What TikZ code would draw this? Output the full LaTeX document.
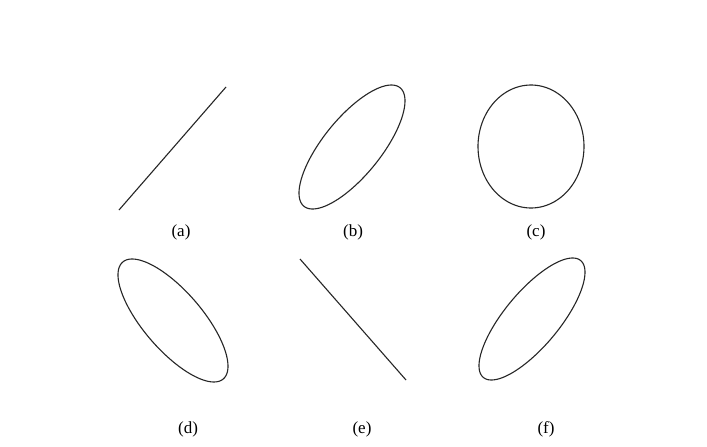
\documentclass[tikz,border=0pt]{standalone}
\usepackage{fontspec}
\setmainfont{Liberation Serif}
\usepackage{xcolor}
\usepackage{tikz}
\usetikzlibrary{positioning}

\tikzset{
  curve/.style={line width=1.1pt, black!85, smooth, samples=120},
  tag/.style={inner sep=0pt, anchor=base, font=\fontsize{17}{20}\selectfont}
}

\begin{document}
\begin{tikzpicture}[x=1pt,y=-1pt]
    \fill[white] (0,0) rectangle (707,447);
    \useasboundingbox (0,0) rectangle (707,447);
    \draw[curve] (119,210) -- (226,87);
    \draw[curve] plot[domain=0:360] ({352+53*sin(\x)},{147-62*sin(\x+42)}) -- cycle;
    \draw[curve] plot[domain=0:360] ({531+53*sin(\x)},{146.5-61.5*sin(\x+90)}) -- cycle;
    \draw[curve] plot[domain=0:360] ({173+55*sin(\x)},{320.5+61.5*sin(\x+42)}) -- cycle;
    \draw[curve] (300,259) -- (406,380);
    \draw[curve] plot[domain=0:360] ({532+53*sin(\x)},{319-61*sin(\x+40)}) -- cycle;
    \node[tag] (lbla) at (181,236) {(a)};
    \node[tag] (lblb) at (353,236) {(b)};
    \node[tag] (lblc) at (536,236) {(c)};
    \node[tag] (lbld) at (188,433) {(d)};
    \node[tag] (lble) at (362,433) {(e)};
    \node[tag] (lblf) at (546,433) {(f)};
  \end{tikzpicture}
\end{document}
